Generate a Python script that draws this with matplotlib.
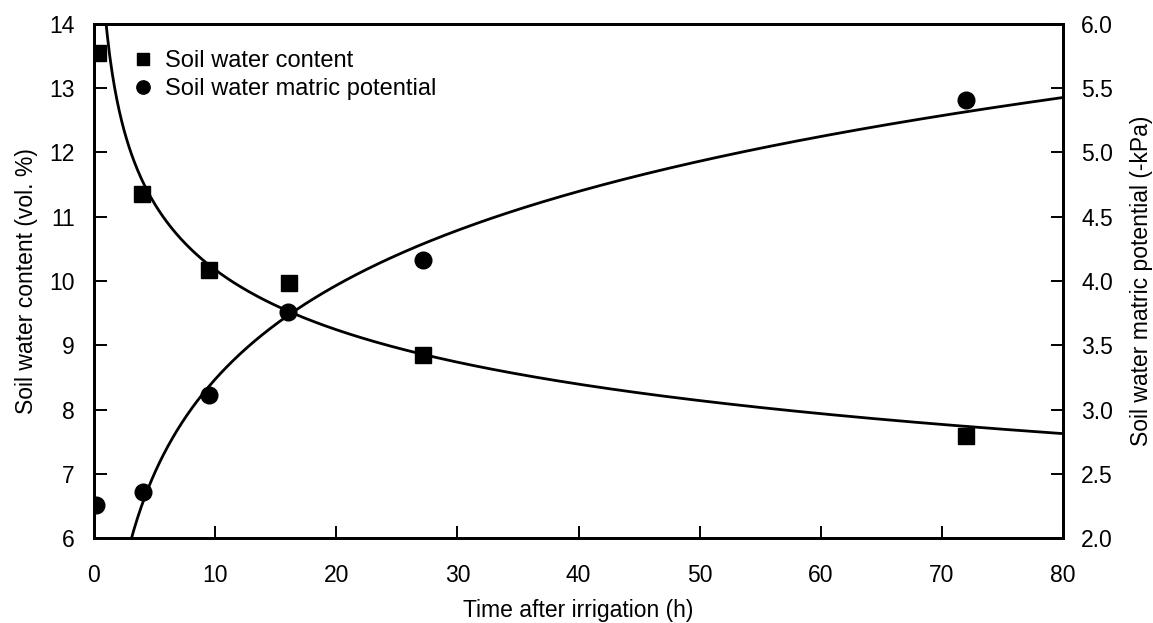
import numpy as np
import matplotlib
matplotlib.use('Agg')
from matplotlib import pyplot

pyplot.rcParams['font.family'] = ['Liberation Sans', 'DejaVu Sans']

time_content = [0.3, 4.0, 9.5, 16.1, 27.2, 72.0]
water_content = [13.55, 11.35, 10.17, 9.97, 8.85, 7.59]
time_potential = [0.2, 4.05, 9.5, 16.0, 27.2, 72.0]
matric_potential = [2.26, 2.36, 3.11, 3.76, 4.16, 5.41]

# fitted curves: power law for content, log for potential (fit on points with t > 1)
tc = np.array(time_content[1:])
wc = np.array(water_content[1:])
tp = np.array(time_potential[1:])
mp = np.array(matric_potential[1:])
b_c, ln_a_c = np.polyfit(np.log(tc), np.log(wc), 1)
b_p, a_p = np.polyfit(np.log(tp), mp, 1)

t_fit = np.linspace(0.3, 80, 800)
content_fit = np.exp(ln_a_c) * t_fit ** b_c
potential_fit = a_p + b_p * np.log(t_fit)

fs = 16.5
figure = pyplot.figure(figsize=(11.53, 6.23), dpi=100)
ax = figure.add_axes([0.0815, 0.1364, 0.8405, 0.8251])
ax2 = ax.twinx()

ax.plot(t_fit, content_fit, color='black', lw=2.0, zorder=2)
ax.plot(time_content, water_content, 's', color='black', ms=11.5,
        clip_on=True, zorder=3, label='Soil water content')
ax2.plot(t_fit, potential_fit, color='black', lw=2.0, zorder=2)
ax2.plot(time_potential, matric_potential, 'o', color='black', ms=12,
         clip_on=True, zorder=3, label='Soil water matric potential')

ax.set_xlim(0, 80)
ax.set_ylim(6, 14)
ax2.set_ylim(2.0, 6.0)
ax.set_xticks(np.arange(0, 81, 10))
ax.set_yticks(np.arange(6, 15, 1))
ax2.set_yticks(np.arange(2.0, 6.01, 0.5))
ax2.set_yticklabels(['%.1f' % v for v in np.arange(2.0, 6.01, 0.5)])

for a in (ax, ax2):
    a.tick_params(direction='in', length=9, width=1.4, labelsize=fs)
    for s in a.spines.values():
        s.set_linewidth(2.0)
ax.tick_params(axis='y', pad=14)
ax.tick_params(axis='x', pad=19)
ax2.tick_params(axis='y', pad=13)

ax.set_xlabel('Time after irrigation (h)', fontsize=fs, labelpad=8)
ax.set_ylabel('Soil water content (vol. %)', fontsize=fs, labelpad=8)
ax2.set_ylabel('Soil water matric potential (-kPa)', fontsize=fs, labelpad=12)

h1, l1 = ax.get_legend_handles_labels()
h2, l2 = ax2.get_legend_handles_labels()
ax2.legend(h1 + h2, l1 + l2, loc='upper left', bbox_to_anchor=(0.02, 0.99),
           frameon=False, fontsize=17, handlelength=0.7, handletextpad=0.6,
           labelspacing=0.25, markerscale=0.8)

pyplot.savefig('out.png', dpi=100)
